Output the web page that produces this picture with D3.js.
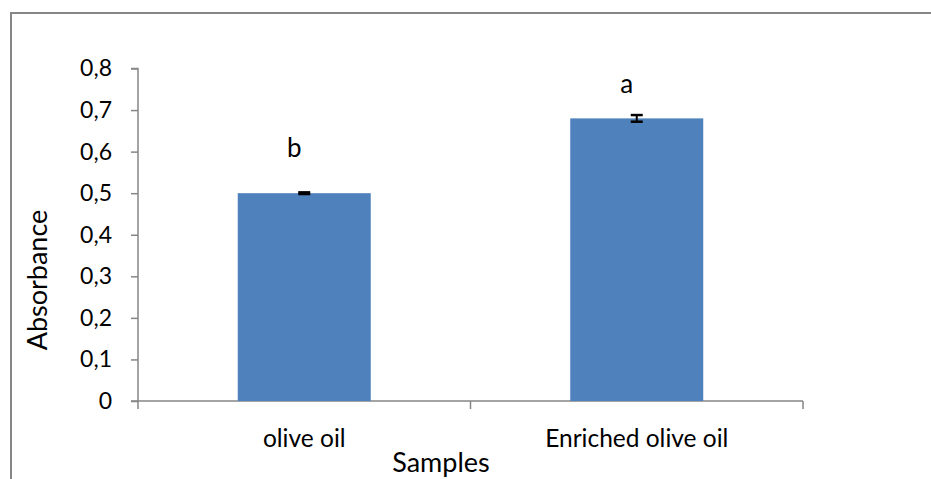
<!DOCTYPE html>
<html><head><meta charset="utf-8">
<script src="https://cdn.jsdelivr.net/npm/d3@7"></script>
<style>body{margin:0;background:#fff}svg{display:block}text{font-family:"Lato",sans-serif;fill:#000}</style>
</head><body>
<script>
const categories = ["olive oil", "Enriched olive oil"];
const values = [0.50, 0.68];
const errors = [0.002, 0.008];
const letters = ["b", "a"];
const letterLevels = [0.587, 0.741];
const yTicks = [0, 0.1, 0.2, 0.3, 0.4, 0.5, 0.6, 0.7, 0.8];

const W = 931, H = 479;
const svg = d3.select("body").append("svg").attr("width", W).attr("height", H);
svg.append("rect").attr("x", 11).attr("y", 13).attr("width", 940).attr("height", 500)
  .attr("fill", "none").attr("stroke", "#868686").attr("stroke-width", 2);

const x0 = 138, x1 = 803, yTop = 68.5, yBot = 401;
const x = d3.scaleBand().domain(categories).range([x0, x1]).paddingInner(0.6).paddingOuter(0.3);
const y = d3.scaleLinear().domain([0, 0.8]).range([yBot, yTop]);

const fmt = d => d === 0 ? "0" : d3.format(".1f")(d).replace(".", ",");
const ya = svg.append("g").attr("transform", `translate(${x0},0)`)
  .call(d3.axisLeft(y).tickValues(yTicks).tickFormat(fmt).tickSize(7).tickPadding(19));
ya.select(".domain").attr("stroke", "#868686").attr("stroke-width", 1.5).attr("d", `M-7,${yTop}H0V${yBot}`);
ya.selectAll(".tick line").attr("stroke", "#868686").attr("stroke-width", 1.5);
ya.selectAll(".tick text").style("font-size", "23px").style("font-family", "Lato").attr("fill", "#000");

const xa = svg.append("g");
xa.append("line").attr("x1", x0 - 7).attr("x2", x1).attr("y1", yBot).attr("y2", yBot)
  .attr("stroke", "#868686").attr("stroke-width", 1.5);
const bounds = [x0, (x0 + x1) / 2, x1];
xa.selectAll(".bt").data(bounds).enter().append("line")
  .attr("x1", d => d).attr("x2", d => d).attr("y1", yBot).attr("y2", yBot + 8)
  .attr("stroke", "#868686").attr("stroke-width", 1.5);

svg.selectAll(".bar").data(categories).enter().append("rect")
  .attr("x", d => x(d)).attr("width", x.bandwidth())
  .attr("y", (d, i) => y(values[i])).attr("height", (d, i) => yBot - y(values[i]))
  .attr("fill", "#4F81BD");

categories.forEach((c, i) => {
  const cx = x(c) + x.bandwidth() / 2;
  const hi = y(values[i] + errors[i]), lo = y(values[i] - errors[i]);
  svg.append("line").attr("x1", cx).attr("x2", cx).attr("y1", hi).attr("y2", lo).attr("stroke", "#000").attr("stroke-width", 2);
  [hi, lo].forEach(v => svg.append("line").attr("x1", cx - 6).attr("x2", cx + 6).attr("y1", v).attr("y2", v)
    .attr("stroke", "#000").attr("stroke-width", 2.5));
  svg.append("text").attr("x", cx - 10).attr("y", y(letterLevels[i])).attr("text-anchor", "middle")
    .style("font-size", "26px").text(letters[i]);
  svg.append("text").attr("x", cx).attr("y", 447).attr("text-anchor", "middle")
    .style("font-size", "24.5px").text(c);
});

svg.append("text").attr("x", 441).attr("y", 472).attr("text-anchor", "middle").style("font-size", "27px").text("Samples");
svg.append("text").attr("transform", "translate(47,280) rotate(-90)").attr("text-anchor", "middle")
  .style("font-size", "27px").text("Absorbance");
</script>
</body></html>
